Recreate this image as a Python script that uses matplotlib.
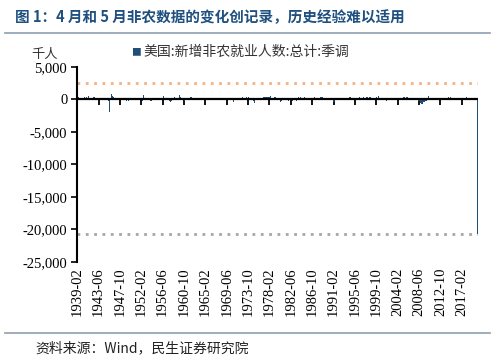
import numpy as np
import pandas as pd
import matplotlib
matplotlib.use("Agg")
import matplotlib.pyplot as plt

plt.rcParams['font.family'] = ['Noto Sans CJK SC', 'DejaVu Sans']

# monthly change of US nonfarm payrolls, thousands (1939-02 .. 2020-05)
payroll_1930s = [260, 240, -230, 310, 250, 130, 300, 500, 230, 160, 190]
payroll_1940s = [
    -50, 60, 100, -90, 80, 120, 230, 340, 330, 290, 260, 300,
    400, 380, 290, 150, 520, 360, 260, 130, 80, 100, 50, 150,
    200, 180, 300, 250, 290, 380, 420, 400, 360, 350, 300, 250,
    250, 230, 200, 120, 100, 60, 50, -30, 20, 40, -30, 10,
    -100, -90, -120, -90, -130, -50, -100, -70, -80, -60, 40, 30,
    80, 30, -20, -130, -220, -180, -240, -660, -1959, -470, 180, 90,
    850, -210, 620, 540, 160, 410, 370, 390, 270, 260, 160, 120,
    90, 70, 50, 50, -20, 70, 30, 140, 180, 130, 90, 100,
    110, -30, -140, -80, 200, 170, 100, 70, 0, -20, -90, -110,
    -220, -170, -120, -160, -230, -210, -190, 80, 30, -570, 470, 80,
]
payroll_1950s = [
    170, -50, 340, 340, 300, 340, 290, 460, 290, 230, 110, 50,
    290, 190, 130, 40, 20, -10, -40, -30, -30, 30, 80, 80,
    40, 110, -10, 40, -240, -230, 650, 320, 140, 160, 120, 80,
    90, 100, 110, 40, 30, -20, -30, -120, -110, -160, -260, -280,
    -300, -190, -210, -120, -100, -70, -80, 20, 60, 60, 140, 130,
    170, 190, 230, 220, 180, 170, 160, 150, 120, 150, 140, 130,
    150, 100, 80, 70, 0, -90, -420, 550, 80, 30, 40, 60,
    80, 90, -50, -30, -60, -60, 10, -60, -170, -170, -230, -190,
    -380, -400, -250, -280, -100, 20, 100, 180, 200, 60, 350, 130,
    200, 140, 230, 230, 160, 70, -150, -380, -10, -240, 750, 300,
]
payroll_1960s = [
    320, -40, -140, 260, -220, -70, -50, -40, -50, -120, -180, -260,
    -60, -60, -20, 30, 140, 160, 130, 140, 60, 130, 200, 80,
    -100, 330, 110, 350, 60, -20, 60, 90, 40, 70, 0, 30,
    80, 50, 70, 210, 100, 20, 140, 110, 140, 160, -50, 170,
    40, 230, 150, 60, 150, 90, 170, 160, 80, -80, 380, 140,
    160, 200, 220, 200, 210, 220, 240, 230, 270, 200, 230, 300,
    240, 260, 380, 280, 200, 280, 150, 270, 210, 190, 210, 160,
    170, 160, 60, 20, 100, 170, 190, 270, 90, 100, 430, 240,
    20, 380, 220, 300, 200, 190, 190, 210, 180, 220, 250, 290,
    280, 250, 240, 180, 230, 280, 190, 240, 10, 170, 140, 120,
]
payroll_1970s = [
    80, 90, 140, -50, -170, -90, 30, -70, -100, -420, -120, 370,
    120, -20, 50, 190, 170, -30, 160, 50, 320, 140, 190, 240,
    270, 260, 300, 290, 320, 230, 50, 380, 260, 340, 290, 340,
    220, 450, 330, 250, 250, 330, 120, 240, 190, 360, 310, 160,
    90, 150, 20, 150, 160, 50, 40, 10, -60, -20, -310, -530,
    -430, -560, -380, -100, 180, 40, 200, 370, 160, 270, 200, 300,
    480, 240, 190, 270, -10, 60, 190, 110, 230, 40, 380, 180,
    180, 310, 380, 360, 360, 370, 330, 270, 430, 250, 420, 370,
    160, 320, 470, 480, 400, 380, 270, 240, 220, 380, 440, 300,
    240, 380, 350, -110, 340, 310, 200, 100, 100, 170, 130, 140,
]
payroll_1980s = [
    180, 140, 50, -200, -430, -300, -260, 200, 110, 270, 240, 160,
    100, 80, 120, 160, 20, 230, 130, -10, -80, -90, -210, -260,
    -310, -20, -130, -270, -20, -240, -340, -160, -180, -280, -120, -20,
    210, -70, 170, 280, 280, 380, 420, -300, 1114, 270, 350, 360,
    450, 480, 270, 360, 310, 380, 320, 240, 310, 290, 350, 130,
    270, 120, 350, 200, 280, 140, 180, 200, 180, 200, 200, 250,
    130, 110, 90, 190, 120, -90, 320, 120, 340, 200, 180, 200,
    170, 230, 240, 340, 230, 170, 340, 170, 230, 490, 230, 290,
    90, 450, 270, 230, 230, 360, 220, 120, 340, 270, 340, 300,
    260, 260, 200, 170, 120, 110, 40, 40, 260, 110, 270, 110,
]
payroll_1990s = [
    200, 270, 190, 30, 150, 10, -40, -220, -100, -160, -160, -60,
    -170, -320, -200, -200, -100, 60, -50, -20, 40, 10, -20, 50,
    20, -70, 100, 140, 110, 50, 100, 140, 20, 170, 120, 180,
    300, 270, -30, 300, 260, 160, 290, 210, 260, 250, 260, 300,
    270, 210, 460, 350, 330, 310, 360, 280, 360, 240, 460, 270,
    350, 220, 210, 170, -10, 270, 110, 270, 250, 160, 130, 150,
    -20, 450, 290, 160, 330, 280, 250, 190, 220, 270, 280, 180,
    240, 300, 330, 300, 250, 270, 300, 0, 340, 320, 300, 310,
    370, 150, 160, 280, 370, 200, 120, 340, 210, 190, 280, 340,
    160, 440, 110, 370, 210, 260, 320, 140, 220, 370, 260, 300,
]
payroll_2000s = [
    250, 120, 480, -280, 220, -50, 170, -20, -20, 0, 190, 140,
    -20, 70, -20, -280, -50, -130, -40, -160, -240, -320, -290, -170,
    -140, -140, -20, -90, -10, 40, -100, 0, -60, 120, 10, -150,
    90, -160, -210, -50, -10, 0, 20, -40, 100, 200, 10, 90,
    160, 40, 340, 250, 310, 80, 50, 130, 160, 350, 60, 130,
    140, 240, 140, 360, 170, 250, 370, 190, 70, 80, 340, 160,
    280, 310, 280, 180, 20, 80, 200, 180, 160, 0, 210, 170,
    230, 90, 190, 70, 140, 70, -30, -20, 70, 80, 110, 100,
    20, -80, -80, -220, -180, -170, -210, -270, -460, -480, -800, -660,
    -780, -700, -800, -700, -350, -470, -330, -220, -440, -200, 10, -270,
]
payroll_2010s = [
    20, -70, 170, 250, 520, -130, -80, -10, -60, 260, 120, 90,
    50, 220, 230, 320, 120, 240, 70, 110, 230, 180, 130, 210,
    350, 260, 240, 90, 110, 70, 160, 150, 190, 210, 170, 240,
    190, 280, 140, 180, 220, 170, 120, 260, 190, 210, 270, 40,
    180, 180, 260, 330, 230, 310, 230, 200, 280, 230, 310, 270,
    190, 270, 80, 290, 340, 180, 280, 150, 140, 320, 250, 260,
    120, 230, 220, 180, 20, 250, 310, 160, 250, 130, 170, 150,
    230, 230, 100, 190, 150, 220, 210, 190, 20, 260, 220, 170,
    170, 330, 190, 180, 270, 230, 140, 280, 90, 220, 180, 230,
    270, 10, 150, 220, 80, 180, 190, 210, 210, 180, 260, 180,
]
payroll_2020 = [210, 270, -880, -20687, 2509]

may_2020 = 2509
april_2020 = -20687
y_ticks = [5000, 0, -5000, -10000, -15000, -20000, -25000]

title = "图 1：4 月和 5 月非农数据的变化创记录，历史经验难以适用"
series_name = "美国:新增非农就业人数:总计:季调"
unit = "千人"
source = "资料来源：Wind，民生证券研究院"

values = np.array(payroll_1930s + payroll_1940s + payroll_1950s + payroll_1960s
                  + payroll_1970s + payroll_1980s + payroll_1990s + payroll_2000s
                  + payroll_2010s + payroll_2020)
months = pd.period_range("1939-02", periods=len(values), freq="M").strftime("%Y-%m")
x = np.arange(len(values))
tick_pos = x[::52]

fig = plt.figure(figsize=(4.99, 3.6), dpi=100)
ax = fig.add_axes([77 / 499, 98.3 / 360, 401 / 499, 194.7 / 360])

bar_color = "#1f4e79"
ax.bar(x, values, width=1.0, color=bar_color, linewidth=0, zorder=3)
ax.axhline(0, color="black", lw=1.6, zorder=4)
ax.axhline(may_2020, color="#f4b183", lw=2, ls=(0, (1, 2)), zorder=2)
ax.axhline(april_2020, color="#a6a6a6", lw=2, ls=(0, (1, 2)), zorder=2)

ax.set_xlim(-0.5, len(values) - 0.5)
ax.set_ylim(-25000, 5000)
ax.set_yticks(y_ticks)
ax.set_yticklabels([f"{v:,}" for v in y_ticks], family="Liberation Serif", fontsize=10.5)
ax.tick_params(axis="y", direction="out", length=4, width=1.2, color="black", pad=3)

for s in ["top", "right", "bottom"]:
    ax.spines[s].set_visible(False)
ax.spines["left"].set_linewidth(1.5)
ax.spines["left"].set_color("black")

# labels at the bottom, tick marks hanging under the zero line
ax.set_xticks(tick_pos)
ax.set_xticklabels(months[::52], rotation=90, family="Liberation Serif", fontsize=10.5)
ax.tick_params(axis="x", length=0, pad=4)
sec = ax.secondary_xaxis(25 / 30)
sec.set_xticks(tick_pos)
sec.set_xticklabels([])
sec.tick_params(axis="x", direction="in", length=4, width=1.3, color="black")
for s in sec.spines.values():
    s.set_visible(False)

# legend and unit
fig.text(131 / 499, 1 - 52 / 360, "■", color=bar_color, fontsize=7, va="center", ha="left")
fig.text(143 / 499, 1 - 52 / 360, series_name, color="#333333", fontsize=10, va="center", ha="left")
fig.text(31 / 499, 1 - 54 / 360, unit, color="#333333", fontsize=9.5, va="center", ha="left")

# title, rules and source
fig.text(15 / 499, 1 - 17 / 360, title, color="#1f5080", fontsize=10.5, fontweight="bold",
         va="center", ha="left")
fig.add_artist(plt.Line2D([5 / 499, 490 / 499], [1 - 33 / 360, 1 - 33 / 360],
                          color="#8c9fb0", lw=1.2))
fig.add_artist(plt.Line2D([5 / 499, 490 / 499], [1 - 333 / 360, 1 - 333 / 360],
                          color="#8c9fb0", lw=1.2))
fig.text(35 / 499, 1 - 348 / 360, source, color="#222222", fontsize=10, va="center", ha="left")

fig.savefig("out.png", dpi=100)
